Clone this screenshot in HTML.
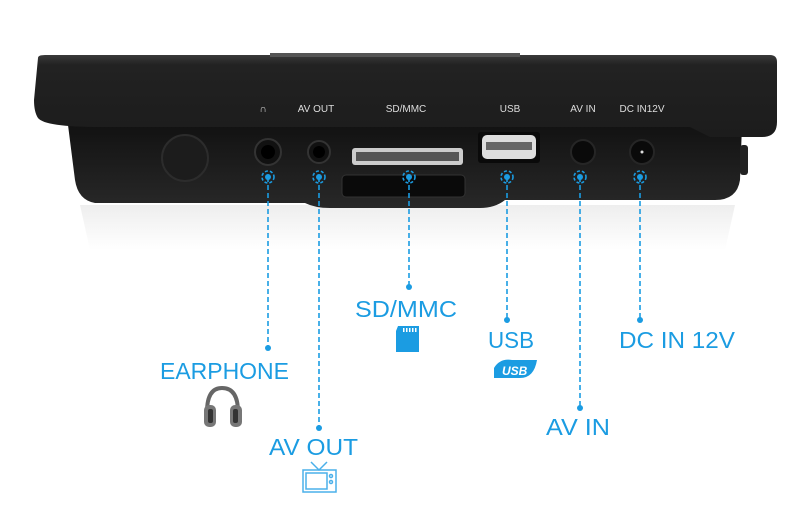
<!DOCTYPE html>
<html><head><meta charset="utf-8"><style>
html,body{margin:0;padding:0;background:#fff;width:800px;height:527px;overflow:hidden}
svg{display:block}
.lbl{font-family:"Liberation Sans",sans-serif;font-size:23px;fill:#1b9ce2}
.pl{font-family:"Liberation Sans",sans-serif;font-size:10px;fill:#ddd}
.dl{stroke:#1b9ce2;stroke-width:1.6;stroke-dasharray:5 3;fill:none}
</style></head><body>
<svg width="800" height="527" viewBox="0 0 800 527">
<defs>
<linearGradient id="top" x1="0" y1="0" x2="0" y2="1"><stop offset="0" stop-color="#3a3a3a"/><stop offset="0.12" stop-color="#222"/><stop offset="1" stop-color="#1c1c1c"/></linearGradient>
<linearGradient id="low" x1="0" y1="0" x2="0" y2="1"><stop offset="0" stop-color="#121212"/><stop offset="1" stop-color="#282828"/></linearGradient>
<linearGradient id="refl" x1="0" y1="0" x2="0" y2="1"><stop offset="0" stop-color="#eeeeee"/><stop offset="1" stop-color="#fff"/></linearGradient>
</defs>
<path d="M80 205 L735 205 L725 250 L90 250 Z" fill="url(#refl)"/>
<!-- lower body -->
<path d="M68 125 L742 125 L740 180 Q737 200 715 200 L505 200 Q495 208 480 208 L330 208 Q315 208 305 203 L95 203 Q78 200 75 180 Z" fill="url(#low)"/>
<!-- top band -->
<path d="M38 58 Q38 55 45 55 L770 55 Q777 55 777 62 L777 122 Q777 137 762 137 L710 137 L690 127 L100 127 Q45 127 38 118 Q34 112 34 100 Z" fill="url(#top)"/>
<rect x="270" y="53" width="250" height="4" fill="#555"/>
<rect x="740" y="145" width="8" height="30" rx="3" fill="#222"/>
<!-- port labels -->
<text class="pl" x="263" y="112" text-anchor="middle">&#8745;</text>
<text class="pl" x="316" y="112" text-anchor="middle">AV OUT</text>
<text class="pl" x="406" y="112" text-anchor="middle">SD/MMC</text>
<text class="pl" x="510" y="112" text-anchor="middle">USB</text>
<text class="pl" x="583" y="112" text-anchor="middle">AV IN</text>
<text class="pl" x="642" y="112" text-anchor="middle">DC IN12V</text>
<!-- ports -->
<ellipse cx="185" cy="158" rx="23" ry="23" fill="#1c1c1c" stroke="#2c2c2c" stroke-width="2"/>
<circle cx="268" cy="152" r="13" fill="#111" stroke="#333" stroke-width="2"/><circle cx="268" cy="152" r="7" fill="#000"/>
<circle cx="319" cy="152" r="11" fill="#111" stroke="#333" stroke-width="2"/><circle cx="319" cy="152" r="6" fill="#000"/>
<rect x="352" y="148" width="111" height="17" rx="3" fill="#ccc"/><rect x="356" y="152" width="103" height="9" fill="#555"/>
<rect x="342" y="175" width="123" height="22" rx="4" fill="#0a0a0a" stroke="#333"/>
<rect x="478" y="132" width="62" height="31" rx="3" fill="#0a0a0a"/><rect x="482" y="135" width="54" height="24" rx="5" fill="#ddd"/><rect x="486" y="142" width="46" height="8" fill="#666"/>
<circle cx="583" cy="152" r="12" fill="#0a0a0a" stroke="#262626" stroke-width="2"/>
<circle cx="642" cy="152" r="12" fill="#0a0a0a" stroke="#262626" stroke-width="2"/><circle cx="642" cy="152" r="1.5" fill="#ddd"/>
<!-- connectors -->
<g fill="#1b9ce2">
<g class="dl">
<path d="M268 177 V348"/><path d="M319 177 V428"/><path d="M409 177 V287"/>
<path d="M507 177 V320"/><path d="M580 177 V408"/><path d="M640 177 V320"/>
<circle cx="268" cy="177" r="6" stroke-dasharray="3 2"/><circle cx="319" cy="177" r="6" stroke-dasharray="3 2"/><circle cx="409" cy="177" r="6" stroke-dasharray="3 2"/>
<circle cx="507" cy="177" r="6" stroke-dasharray="3 2"/><circle cx="580" cy="177" r="6" stroke-dasharray="3 2"/><circle cx="640" cy="177" r="6" stroke-dasharray="3 2"/>
</g>
<circle cx="268" cy="177" r="3"/><circle cx="319" cy="177" r="3"/><circle cx="409" cy="177" r="3"/><circle cx="507" cy="177" r="3"/><circle cx="580" cy="177" r="3"/><circle cx="640" cy="177" r="3"/>
<circle cx="268" cy="348" r="3"/><circle cx="319" cy="428" r="3"/><circle cx="409" cy="287" r="3"/><circle cx="507" cy="320" r="3"/><circle cx="580" cy="408" r="3"/><circle cx="640" cy="320" r="3"/>
</g>
<!-- labels -->
<text class="lbl" x="160" y="379" textLength="129" lengthAdjust="spacingAndGlyphs">EARPHONE</text>
<text class="lbl" x="269" y="455" textLength="89" lengthAdjust="spacingAndGlyphs">AV OUT</text>
<text class="lbl" x="355" y="317" textLength="102" lengthAdjust="spacingAndGlyphs">SD/MMC</text>
<text class="lbl" x="488" y="348" textLength="46" lengthAdjust="spacingAndGlyphs">USB</text>
<text class="lbl" x="546" y="435" textLength="64" lengthAdjust="spacingAndGlyphs">AV IN</text>
<text class="lbl" x="619" y="348" textLength="116" lengthAdjust="spacingAndGlyphs">DC IN 12V</text>
<!-- icons -->
<path d="M398 326 H419 V352 H396 V331 Z" fill="#1b9ce2"/>
<g fill="#fff"><rect x="403" y="328" width="1.5" height="4"/><rect x="406" y="328" width="1.5" height="4"/><rect x="409" y="328" width="1.5" height="4"/><rect x="412" y="328" width="1.5" height="4"/><rect x="415" y="328" width="1.5" height="4"/></g>
<path d="M494 368 Q500 358 512 360 H537 Q534 378 520 378 H494 Z" fill="#1b9ce2"/>
<text x="502" y="375" font-family="Liberation Sans" font-weight="bold" font-style="italic" font-size="12" fill="#fff">USB</text>
<g>
<path d="M207 412 Q207 388 222 388 Q238 388 238 412" fill="none" stroke="#666" stroke-width="4"/>
<rect x="204" y="405" width="12" height="22" rx="5" fill="#777"/><rect x="230" y="405" width="12" height="22" rx="5" fill="#777"/>
<rect x="208" y="409" width="5" height="14" rx="2" fill="#333"/><rect x="233" y="409" width="5" height="14" rx="2" fill="#333"/>
</g>
<g fill="none" stroke="#4ab0ea" stroke-width="1.5">
<rect x="303" y="470" width="33" height="22"/><rect x="306" y="473" width="21" height="16"/>
<path d="M311 462 L319 470 L327 462"/><circle cx="331" cy="476" r="1.5"/><circle cx="331" cy="482" r="1.5"/>
</g>
</svg>
</body></html>
